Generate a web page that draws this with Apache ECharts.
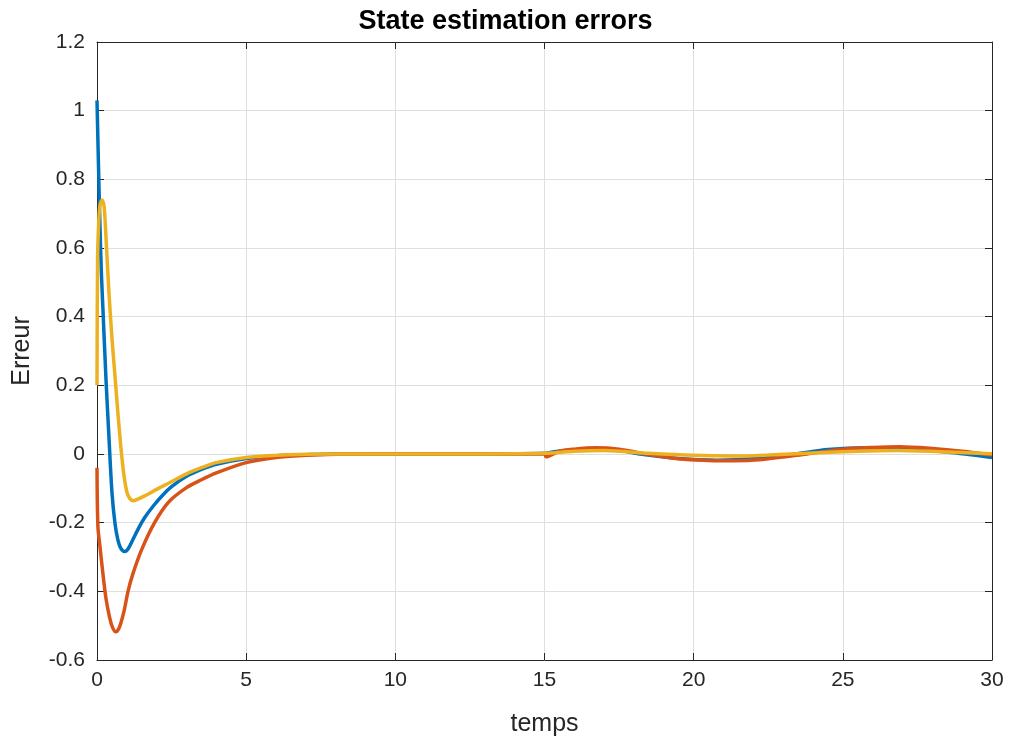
<!DOCTYPE html>
<html>
<head>
<meta charset="utf-8">
<script src="https://cdn.jsdelivr.net/npm/echarts@6/dist/echarts.min.js"></script>
<style>
  html, body { margin: 0; padding: 0; background: #fff; }
  #main { width: 1011px; height: 742px; }
</style>
</head>
<body>
<div id="main"></div>
<script>
// erreurs d'estimation
var blueT = [0, 0.05, 0.1, 0.15, 0.2, 0.3, 0.4, 0.5, 0.6, 0.7, 0.8, 0.93, 1.05, 1.2, 1.4, 1.6, 1.9, 2.2, 2.5, 3, 3.5, 4, 5, 6, 7, 8, 10, 12, 15, 15.5, 16.5, 17.3, 18.2, 19.5, 20.8, 22, 23.4, 24.5, 25.8, 27, 28.5, 30];
var blueV = [1.03, 0.84, 0.66, 0.52, 0.42, 0.22, 0.05, -0.11, -0.2, -0.25, -0.275, -0.284, -0.275, -0.25, -0.215, -0.185, -0.15, -0.12, -0.095, -0.065, -0.045, -0.03, -0.013, -0.005, -0.002, 0, 0, 0, 0.002, 0.009, 0.014, 0.013, 0, -0.013, -0.018, -0.014, 0, 0.013, 0.018, 0.016, 0.006, -0.01];

var redT = [0, 0.03, 0.1, 0.2, 0.3, 0.42, 0.52, 0.63, 0.75, 0.9, 1.04, 1.2, 1.49, 1.93, 2.4, 3, 3.5, 4, 5, 6, 7, 8, 9, 12, 15, 15.05, 15.5, 16, 16.7, 17.5, 18.4, 19.5, 20.5, 21.3, 22.3, 23.8, 25, 26, 26.9, 28, 29, 30];
var redV = [-0.04, -0.21, -0.27, -0.35, -0.42, -0.475, -0.505, -0.518, -0.505, -0.46, -0.4, -0.35, -0.28, -0.2, -0.14, -0.098, -0.075, -0.055, -0.025, -0.01, -0.004, -0.001, 0, 0, 0, -0.008, 0.008, 0.014, 0.018, 0.014, 0, -0.014, -0.019, -0.02, -0.016, 0, 0.014, 0.019, 0.021, 0.016, 0.008, -0.003];

var yellowT = [0, 0.02, 0.06, 0.1, 0.17, 0.24, 0.32, 0.4, 0.5, 0.6, 0.7, 0.8, 0.9, 1.0, 1.1, 1.22, 1.35, 1.6, 2, 2.4, 3, 3.5, 4, 5, 6, 7, 8, 12, 15, 16, 17, 18.5, 20, 21.3, 22.5, 24, 25.5, 26.8, 28.5, 30];
var yellowV = [0.2, 0.57, 0.68, 0.725, 0.74, 0.72, 0.6, 0.47, 0.34, 0.23, 0.12, 0.02, -0.06, -0.11, -0.13, -0.136, -0.132, -0.122, -0.103, -0.085, -0.058, -0.04, -0.025, -0.01, -0.004, -0.001, 0, 0, 0.002, 0.008, 0.01, 0.002, -0.004, -0.006, -0.003, 0.003, 0.008, 0.01, 0.006, 0.001];

function pairs(t, v) {
	var out = [];
	for (var i = 0; i < t.length; i++) {
		out.push([t[i], v[i]]);
	}
	return out;
}

var font = 'Liberation Sans';
var axisColor = '#262626';

function boxAxis(pos, min, max, interval) {
	// axe sans labels pour fermer le cadre (haut / droite)
	return {
		type: 'value',
		position: pos,
		min: min, max: max, interval: interval,
		axisLine: { show: true, onZero: false, lineStyle: { color: axisColor, width: 1 } },
		axisTick: { show: true, inside: true, length: 7, lineStyle: { color: axisColor } },
		axisLabel: { show: false },
		splitLine: { show: false }
	};
}

var myChart = echarts.init(document.getElementById('main'));
var option = {
	animation: false,
	title: {
		text: 'State estimation errors',
		left: 'center',
		top: 3,
		textStyle: { fontFamily: font, fontSize: 27, fontWeight: 'bold', color: '#000' }
	},
	grid: { left: 97, right: 19, top: 42, bottom: 82 },
	xAxis: [{
		type: 'value',
		min: 0, max: 30, interval: 5,
		name: 'temps',
		nameLocation: 'middle',
		nameGap: 52,
		nameTextStyle: { fontFamily: font, fontSize: 25, color: axisColor },
		axisLine: { onZero: false, lineStyle: { color: axisColor, width: 1 } },
		axisTick: { inside: true, length: 7, lineStyle: { color: axisColor } },
		axisLabel: { fontFamily: font, fontSize: 21, color: axisColor, margin: 10 },
		splitLine: { lineStyle: { color: '#dfdfdf', width: 1 } }
	}, boxAxis('top', 0, 30, 5)],
	yAxis: [{
		type: 'value',
		min: -0.6, max: 1.2, interval: 0.2,
		name: 'Erreur',
		nameLocation: 'middle',
		nameGap: 62,
		nameTextStyle: { fontFamily: font, fontSize: 25, color: axisColor },
		axisLine: { show: true, onZero: false, lineStyle: { color: axisColor, width: 1 } },
		axisTick: { show: true, inside: true, length: 7, lineStyle: { color: axisColor } },
		axisLabel: { fontFamily: font, fontSize: 21, color: axisColor, margin: 12 },
		splitLine: { lineStyle: { color: '#dfdfdf', width: 1 } }
	}, boxAxis('right', -0.6, 1.2, 0.2)],
	series: [{
		type: 'line',
		data: pairs(blueT, blueV),
		showSymbol: false,
		smooth: 0.3,
		lineStyle: { color: '#0072BD', width: 3.5 },
		itemStyle: { color: '#0072BD' }
	}, {
		type: 'line',
		data: pairs(redT, redV),
		showSymbol: false,
		smooth: 0.3,
		lineStyle: { color: '#D95319', width: 3.5 },
		itemStyle: { color: '#D95319' }
	}, {
		type: 'line',
		data: pairs(yellowT, yellowV),
		showSymbol: false,
		smooth: 0.3,
		lineStyle: { color: '#EDB120', width: 3.5 },
		itemStyle: { color: '#EDB120' }
	}]
};
myChart.setOption(option);
</script>
</body>
</html>
